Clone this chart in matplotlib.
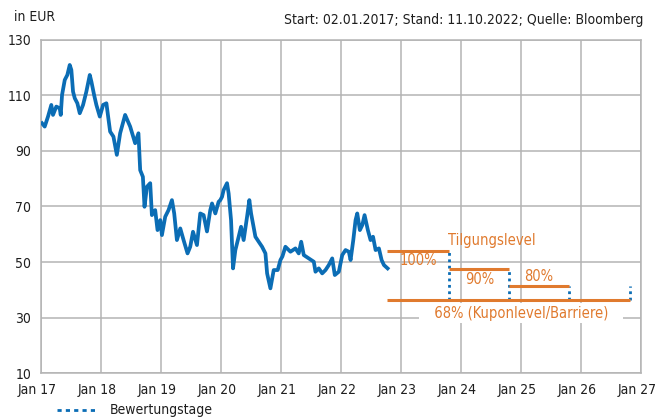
import matplotlib
matplotlib.use("Agg")
import matplotlib.pyplot as plt
from matplotlib.lines import Line2D
from matplotlib.transforms import ScaledTranslation
import pandas as pd

plt.rcParams['font.family'] = ['DejaVu Sans']
plt.rcParams['font.stretch'] = 'condensed'

# price history (decimal year, EUR)
t_years = [
    2017.017, 2017.062, 2017.117, 2017.172, 2017.200, 2017.255, 2017.312, 2017.329,
    2017.351, 2017.396, 2017.439, 2017.479, 2017.506, 2017.534, 2017.563, 2017.606,
    2017.646, 2017.701, 2017.756, 2017.813, 2017.840, 2017.885, 2017.923, 2017.980,
    2018.035, 2018.090, 2018.119, 2018.152, 2018.207, 2018.264, 2018.319, 2018.402,
    2018.486, 2018.569, 2018.624, 2018.653, 2018.698, 2018.725, 2018.765, 2018.820,
    2018.848, 2018.903, 2018.942, 2018.987, 2019.015, 2019.070, 2019.125, 2019.182,
    2019.220, 2019.265, 2019.321, 2019.376, 2019.442, 2019.487, 2019.533, 2019.599,
    2019.654, 2019.710, 2019.766, 2019.821, 2019.850, 2019.905, 2019.960, 2019.988,
    2020.017, 2020.043, 2020.100, 2020.127, 2020.167, 2020.200, 2020.239, 2020.294,
    2020.334, 2020.377, 2020.434, 2020.472, 2020.501, 2020.573, 2020.628, 2020.684,
    2020.740, 2020.768, 2020.823, 2020.878, 2020.945, 2020.990, 2021.023, 2021.073,
    2021.157, 2021.240, 2021.295, 2021.336, 2021.379, 2021.462, 2021.546, 2021.574,
    2021.629, 2021.686, 2021.741, 2021.796, 2021.853, 2021.896, 2021.963, 2022.020,
    2022.075, 2022.130, 2022.159, 2022.204, 2022.242, 2022.270, 2022.314, 2022.354,
    2022.392, 2022.447, 2022.492, 2022.533, 2022.576, 2022.631, 2022.676, 2022.715,
    2022.776,
]
price = [
    100.0, 98.8, 102.4, 106.6, 103.0, 106.0, 105.4, 103.0,
    110.2, 115.6, 117.4, 121.0, 119.2, 111.4, 109.0, 107.2,
    103.6, 106.6, 111.4, 117.4, 115.0, 110.2, 106.6, 102.4,
    106.6, 107.2, 102.4, 97.0, 95.2, 88.6, 96.4, 103.0,
    98.8, 92.8, 96.4, 83.1, 80.7, 69.9, 77.1, 78.4,
    66.9, 68.7, 61.5, 65.1, 59.7, 66.3, 68.7, 72.3,
    67.5, 57.9, 62.1, 57.9, 53.1, 55.5, 60.9, 56.1,
    67.5, 66.9, 61.0, 68.7, 71.1, 67.5, 71.7, 72.3,
    73.5, 75.9, 78.4, 74.7, 65.1, 47.7, 54.3, 59.1,
    62.7, 57.9, 66.3, 72.3, 67.5, 59.1, 57.3, 55.5,
    53.1, 45.9, 40.5, 47.1, 47.1, 50.7, 52.0, 55.5,
    53.7, 54.9, 53.1, 57.3, 52.5, 51.3, 50.1, 46.5,
    47.7, 45.9, 47.1, 48.9, 51.3, 45.3, 46.5, 52.5,
    54.3, 53.7, 50.7, 57.9, 65.1, 67.5, 61.5, 63.3,
    66.9, 61.5, 57.9, 59.1, 54.3, 54.9, 50.7, 48.9,
    47.7,
]

# product structure
start_date = "2022-10-11"
valuation_dates = ["2023-10-23", "2024-10-21", "2025-10-20", "2026-10-26"]
redemption_levels = [54.1, 47.3, 41.5]
redemption_labels = ["100%", "90%", "80%"]
final_level = 41.5
barrier = 36.3
barrier_label = "68% (Kuponlevel/Barriere)"

year_ticks = [f"{y}-01-01" for y in range(2017, 2028)]
year_labels = [f"Jan {y % 100}" for y in range(2017, 2028)]
y_ticks = [10, 30, 50, 70, 90, 110, 130]

blue = "#0b6db5"
orange = "#e07a2e"
grid = "#b4b4b4"
dark = "#1e1e1e"
fs = 10


def to_date(t):
    return pd.Timestamp("2017-01-01") + pd.to_timedelta((t - 2017) * 365.25, unit="D")


dates = [to_date(t) for t in t_years]
val = pd.to_datetime(valuation_dates)
d0 = pd.Timestamp(start_date)

fig = plt.figure(figsize=(6.59, 4.17), dpi=100)
ax = fig.add_axes([0.0622, 0.1055, 0.9105, 0.7986])

ax.plot(dates, price, color=blue, lw=2.7, solid_joinstyle="round", zorder=4)

# redemption steps
seg_starts = [d0] + list(val[:2])
for s, e, lvl, lab in zip(seg_starts, val[:3], redemption_levels, redemption_labels):
    ax.plot([s, e], [lvl, lvl], color=orange, lw=2.2, solid_capstyle="butt", zorder=6)
    mid = s + (e - s) / 2
    dy = 9 if lab == "80%" else -10
    ax.annotate(lab, (mid, lvl), xytext=(0, dy), textcoords="offset pixels",
                ha="center", va="center", color=orange, fontsize=fs + 0.5)

ax.annotate("Tilgungslevel", (val[0], redemption_levels[0]), xytext=(-1, 10),
            textcoords="offset pixels", ha="left", va="center", color=orange, fontsize=fs + 0.5)

# barrier
ax.plot([d0, val[3]], [barrier, barrier], color=orange, lw=2.2, solid_capstyle="butt", zorder=6)
ax.annotate("   " + barrier_label + "   ", (pd.Timestamp("2025-01-01"), barrier),
            xytext=(0, -13), textcoords="offset pixels", ha="center", va="center",
            color=orange, fontsize=fs + 0.5,
            bbox=dict(boxstyle="square,pad=0.2", fc="white", ec="none"), zorder=5)

# valuation dates
tops = redemption_levels + [final_level]
for d, top in zip(val, tops):
    ax.plot([d, d], [barrier, top], color=blue, lw=2, ls=(0, (1, 1.3)), zorder=3)

ax.set_xlim(pd.Timestamp(year_ticks[0]), pd.Timestamp(year_ticks[-1]))
ax.set_ylim(10, 130)
ax.set_xticks(pd.to_datetime(year_ticks))
ax.set_xticklabels(year_labels)
ax.set_yticks(y_ticks)
ax.tick_params(length=0, labelsize=fs, colors=dark, pad=7)
shift = ScaledTranslation(-4 / 100, 0, fig.dpi_scale_trans)
for lbl in ax.get_xticklabels():
    lbl.set_transform(lbl.get_transform() + shift)
ax.grid(True, color=grid, lw=1.1)
ax.set_axisbelow(True)
for sp in ax.spines.values():
    sp.set_color(grid)
    sp.set_linewidth(1.1)

fig.text(14 / 659, 1 - 17 / 417, "in EUR", ha="left", va="center", fontsize=fs, color=dark)
fig.text(643 / 659, 1 - 20 / 417, "Start: 02.01.2017; Stand: 11.10.2022; Quelle: Bloomberg",
         ha="right", va="center", fontsize=fs, color=dark)

# legend below the axis
fig.add_artist(Line2D([57 / 659, 97 / 659], [1 - 410 / 417] * 2, transform=fig.transFigure,
                      color=blue, lw=2, ls=(0, (1.5, 1.5))))
fig.text(110 / 659, 1 - 410 / 417, "Bewertungstage", ha="left", va="center",
         fontsize=fs, color=dark)

fig.savefig("out.png", dpi=100)
